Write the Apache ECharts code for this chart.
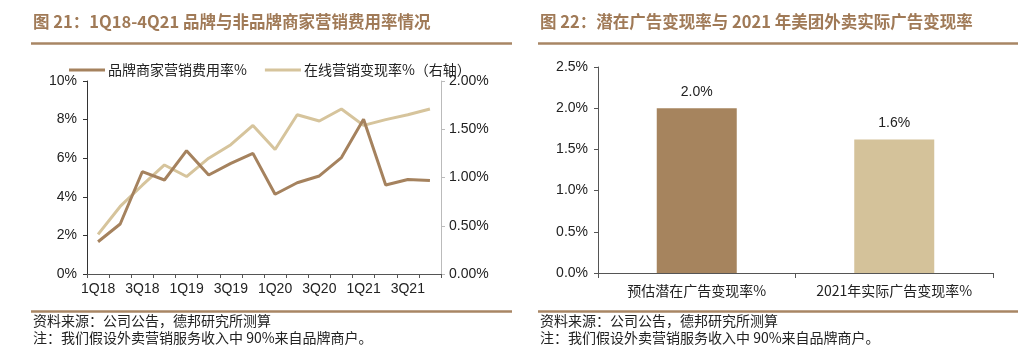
<!DOCTYPE html>
<html><head><meta charset="utf-8">
<script src="https://cdn.jsdelivr.net/npm/echarts@6/dist/echarts.min.js"></script>
<style>html,body{margin:0;padding:0;background:#fff}#c{width:1024px;height:359px}</style>
</head><body><div id="c"></div>
<script>
const quarters = ['1Q18','2Q18','3Q18','4Q18','1Q19','2Q19','3Q19','4Q19','1Q20','2Q20','3Q20','4Q20','1Q21','2Q21','3Q21','4Q21'];
const brandRate = [1.67,2.59,5.30,4.87,6.39,5.13,5.73,6.25,4.13,4.73,5.08,6.03,8.02,4.61,4.90,4.85];
const onlineRate = [0.41,0.70,0.92,1.13,1.01,1.20,1.34,1.54,1.29,1.65,1.585,1.71,1.54,1.60,1.65,1.71];
const barCats = ['预估潜在广告变现率%','2021年实际广告变现率%'];
const barVals = [2.0,1.62];
const leftTicks = ['0%','2%','4%','6%','8%','10%'];
const rightTicks = ['0.00%','0.50%','1.00%','1.50%','2.00%'];
const rightBarTicks = ['0.0%','0.5%','1.0%','1.5%','2.0%','2.5%'];
const seriesNames = ['品牌商家营销费用率%','在线营销变现率%（右轴）'];

const DARK = '#a5825e', LIGHT = '#d6c49c', TITLE = '#a07a57';
const FONT = '"Liberation Sans", Arial, "Noto Sans CJK SC", sans-serif';
const CJK = '"Noto Sans CJK SC", "Liberation Sans", sans-serif';

const chart = echarts.init(document.getElementById('c'), null, {renderer:'canvas'});
const txt = (x,y,t,opt) => ({type:'text', left:x, top:y, style:Object.assign({text:t, fill:'#222', font:'13px '+CJK}, opt||{})});
const line = (x1,y1,x2,y2,c,w) => ({type:'line', shape:{x1,y1,x2,y2}, style:{stroke:c, lineWidth:w}});

chart.setOption({
  animation:false,
  textStyle:{fontFamily:FONT},
  legend:{
    top:58, left:64, itemWidth:36, itemHeight:3, itemGap:18, icon:'rect',
    textStyle:{fontFamily:CJK, fontSize:14, color:'#222', padding:[0,0,0,-2]},
    data:seriesNames
  },
  grid:[
    {left:87, top:81, width:354, height:193},
    {left:598, top:67, width:395, height:206}
  ],
  xAxis:[
    {type:'category', gridIndex:0, data:quarters, boundaryGap:true,
     axisLine:{lineStyle:{color:'#555', width:1}},
     axisTick:{show:true, interval:0, length:4, inside:false, lineStyle:{color:'#555'}},
     axisLabel:{interval:1, color:'#222', fontSize:14, margin:8, fontFamily:FONT}},
    {type:'category', gridIndex:1, data:barCats, boundaryGap:true,
     axisLine:{lineStyle:{color:'#555', width:1}},
     axisTick:{show:true, interval:0, length:5, lineStyle:{color:'#555'}},
     axisLabel:{interval:0, hideOverlap:false, color:'#222', fontSize:14, margin:11, fontFamily:CJK}}
  ],
  yAxis:[
    {type:'value', gridIndex:0, min:0, max:10, interval:2, position:'left',
     axisLine:{show:true, lineStyle:{color:'#333'}},
     axisTick:{show:true, length:4, lineStyle:{color:'#333'}},
     splitLine:{show:false},
     axisLabel:{color:'#222', fontSize:14, margin:10, formatter:(v)=>leftTicks[v/2]}},
    {type:'value', gridIndex:0, min:0, max:2, interval:0.5, position:'right',
     axisLine:{show:true, lineStyle:{color:'#bbb'}},
     axisTick:{show:true, length:4, lineStyle:{color:'#bbb'}},
     splitLine:{show:false},
     axisLabel:{color:'#222', fontSize:14, margin:8, formatter:(v)=>rightTicks[Math.round(v/0.5)]}},
    {type:'value', gridIndex:1, min:0, max:2.5, interval:0.5,
     axisLine:{show:true, lineStyle:{color:'#555'}},
     axisTick:{show:true, length:4, lineStyle:{color:'#555'}},
     splitLine:{show:false},
     axisLabel:{color:'#222', fontSize:14, margin:10, formatter:(v)=>rightBarTicks[Math.round(v/0.5)]}}
  ],
  series:[
    {name:seriesNames[0], type:'line', xAxisIndex:0, yAxisIndex:0, data:brandRate,
     symbol:'none', lineStyle:{color:DARK, width:3}, itemStyle:{color:DARK}, z:3},
    {name:seriesNames[1], type:'line', xAxisIndex:0, yAxisIndex:1, data:onlineRate,
     symbol:'none', lineStyle:{color:LIGHT, width:3}, itemStyle:{color:LIGHT}, z:2},
    {type:'bar', xAxisIndex:1, yAxisIndex:2, barWidth:80,
     data:barVals.map((v,i)=>({value:v, itemStyle:{color:i===0?'#a6845e':'#d4c29a'}})),
     label:{show:true, position:'top', distance:9, color:'#222', fontSize:14, fontFamily:FONT,
       formatter:(p)=>p.value.toFixed(1)+'%'}}
  ],
  graphic:[
    txt(33,13,'图 21：1Q18-4Q21 品牌与非品牌商家营销费用率情况',{fill:TITLE, font:'bold 16.5px '+CJK}),
    txt(540,13,'图 22：潜在广告变现率与 2021 年美团外卖实际广告变现率',{fill:TITLE, font:'bold 16.5px '+CJK}),
    line(31,43.5,512,43.5,'#a88664',2.5),
    line(538,43.5,1018,43.5,'#a88664',2.5),
    line(31,311.5,512,311.5,'#a88664',2.5),
    line(538,311.5,1018,311.5,'#a88664',2.5),
    txt(33,314,'资料来源：公司公告，德邦研究所测算',{font:'14px '+CJK}),
    txt(33,331,'注：我们假设外卖营销服务收入中 90%来自品牌商户。',{font:'14px '+CJK}),
    txt(540,314,'资料来源：公司公告，德邦研究所测算',{font:'14px '+CJK}),
    txt(540,331,'注：我们假设外卖营销服务收入中 90%来自品牌商户。',{font:'14px '+CJK})
  ]
});
</script></body></html>
